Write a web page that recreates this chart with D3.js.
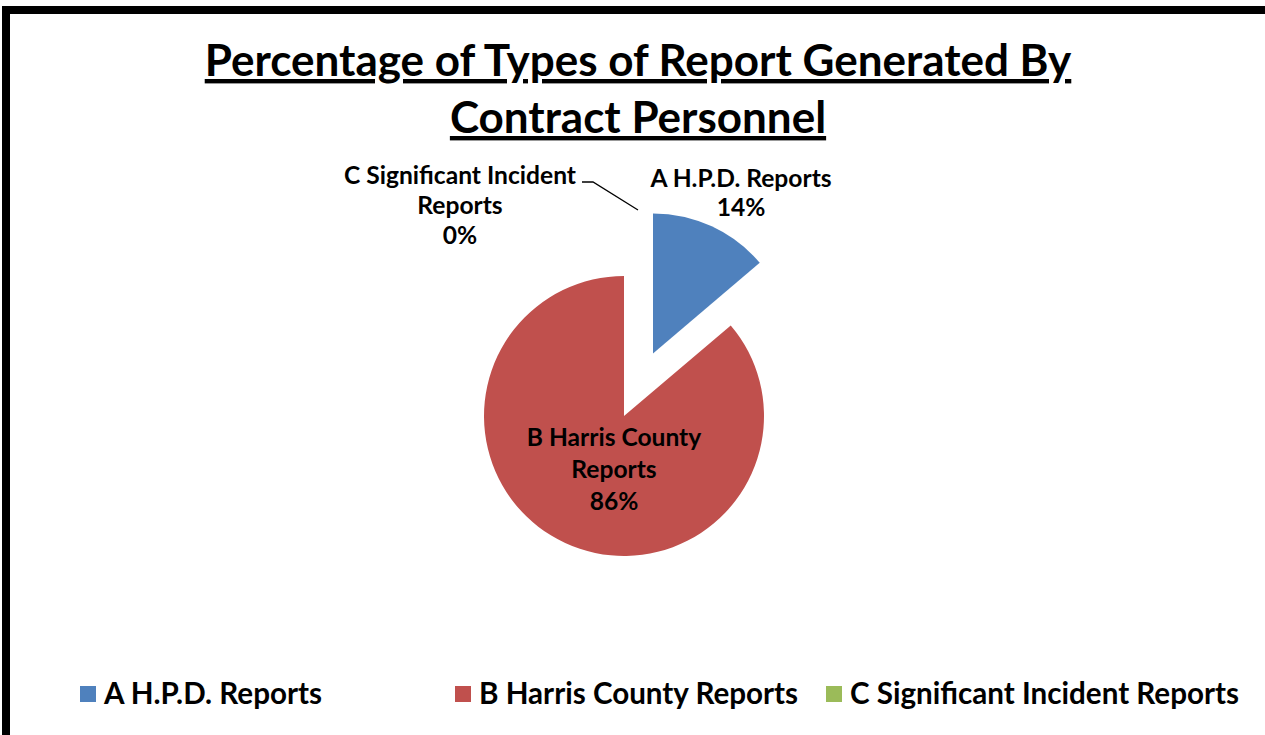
<!DOCTYPE html>
<html>
<head>
<meta charset="utf-8">
<script src="https://cdn.jsdelivr.net/npm/d3@7"></script>
<style>
  html, body { margin: 0; padding: 0; background: #fff; }
  svg { display: block; }
  text { font-family: Lato, 'Open Sans', sans-serif; font-weight: bold; fill: #000; }
</style>
</head>
<body>
<svg id="chart" width="1265" height="735"></svg>
<script>
// data
const categories = ['A H.P.D. Reports', 'B Harris County Reports', 'C Significant Incident Reports']
const shares = [13.8, 86.2, 0]
const percentLabels = ['14%', '86%', '0%']
const labelLines = [['A H.P.D. Reports'], ['B Harris County', 'Reports'], ['C Significant Incident', 'Reports']]
const colors = ['#4f81bd', '#c0504d', '#9bbb59']
const titleLines = ['Percentage of Types of Report Generated By', 'Contract Personnel']

const svg = d3.select('#chart')
const W = 1265

// outer frame (only left and top edge visible)
svg.append('rect')
  .attr('x', 6).attr('y', 10)
  .attr('width', W + 20).attr('height', 800)
  .style('fill', 'none')
  .style('stroke', '#000')
  .style('stroke-width', 8)

// title
const titleY = [76, 133]
titleLines.forEach((t, i) => {
  svg.append('text')
    .attr('x', 638)
    .attr('y', titleY[i])
    .attr('text-anchor', 'middle')
    .style('font-size', '44px')
    .style('text-decoration', 'underline')
    .text(t)
})

// pie
const cx = 624, cy = 416, r = 140, explode = 69
const pie = d3.pie().sort(null).value(d => d)
const arcs = pie(shares)
const arc = d3.arc().innerRadius(0).outerRadius(r)

const offset = (d, i) => {
  if (i !== 0) return [0, 0]
  const mid = (d.startAngle + d.endAngle) / 2
  return [Math.sin(mid) * explode, -Math.cos(mid) * explode]
}

svg.append('g')
  .selectAll('path')
  .data(arcs)
  .join('path')
  .attr('d', arc)
  .attr('transform', (d, i) => {
    const o = offset(d, i)
    return `translate(${cx + o[0]},${cy + o[1]})`
  })
  .style('fill', (d, i) => colors[i])

// data labels
const labelPos = [
  { x: 741, y: 187, gap: 29 },
  { x: 614, y: 446, gap: 32 },
  { x: 460, y: 184, gap: 30 }
]
arcs.forEach((d, i) => {
  const p = labelPos[i]
  const lines = labelLines[i].concat([percentLabels[i]])
  const t = svg.append('text')
    .attr('text-anchor', 'middle')
    .style('font-size', '24.6px')
  lines.forEach((l, j) => {
    t.append('tspan')
      .attr('x', p.x)
      .attr('y', p.y + j * p.gap)
      .text(l)
  })
})

// leader line for the zero slice
const c = arcs[2]
const endX = cx + Math.sin(c.startAngle) * (r + explode) + 14
const endY = cy - Math.cos(c.startAngle) * (r + explode) + 3
svg.append('polyline')
  .attr('points', `582,182 593,182 ${endX},${endY}`)
  .style('fill', 'none')
  .style('stroke', '#000')
  .style('stroke-width', 1.3)

// legend
const legendX = [80, 455, 826]
const legend = svg.append('g')
categories.forEach((name, i) => {
  legend.append('rect')
    .attr('x', legendX[i])
    .attr('y', 686)
    .attr('width', 16)
    .attr('height', 16)
    .style('fill', colors[i])
  legend.append('text')
    .attr('x', legendX[i] + 24)
    .attr('y', 704)
    .style('font-size', '29.6px')
    .text(name)
})
</script>
</body>
</html>
